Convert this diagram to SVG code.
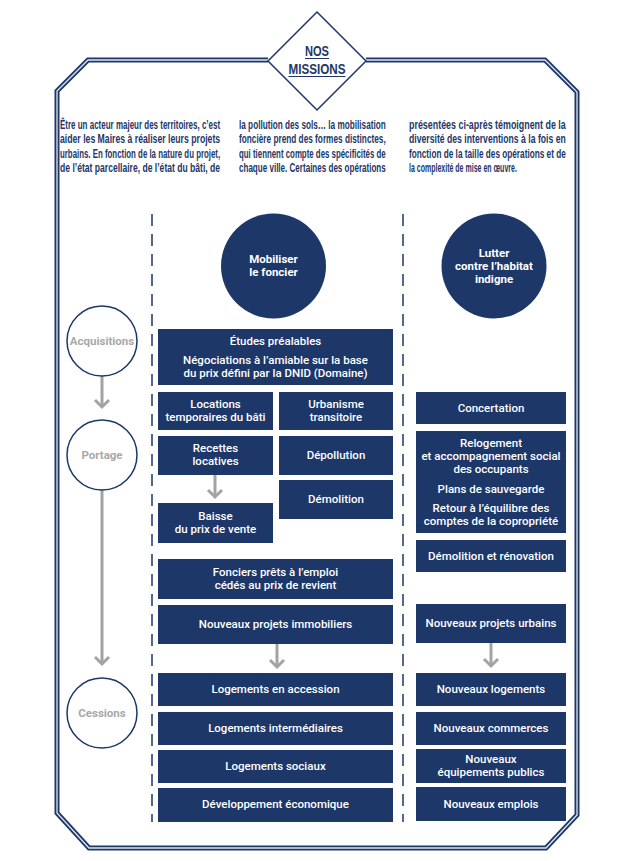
<svg xmlns="http://www.w3.org/2000/svg" width="625" height="861" viewBox="0 0 625 861">
<defs>
<style>
.frame{fill:none;stroke:#1d3769;stroke-width:5}
.frameIn{fill:none;stroke:#dfe4ee;stroke-width:1.3}
.para{font-family:"Liberation Sans",Arial,sans-serif;font-weight:bold;font-size:12px;fill:#1d3769}
.box{fill:#1d3769}
.bt{font-family:Roboto,"Liberation Sans",Arial,sans-serif;font-weight:500;font-size:11.5px;fill:#ffffff;text-anchor:middle}
.ct{font-family:Roboto,"Liberation Sans",Arial,sans-serif;font-weight:bold;font-size:11.5px;fill:#ffffff;text-anchor:middle}
.stage{fill:#ffffff;stroke:#1d3769;stroke-width:1.5}
.st{font-family:Roboto,"Liberation Sans",Arial,sans-serif;font-weight:bold;font-size:11.5px;fill:#a8a8a8;text-anchor:middle}
.dash{stroke:#1d3769;stroke-width:1.5;stroke-dasharray:12 8;fill:none}
.garrow{stroke:#a3a3a3;stroke-width:3;fill:none}
.ghead{stroke:#a3a3a3;stroke-width:3;fill:none;stroke-linejoin:miter}
</style>
</defs>

<g id="frame">
<path class="frame" d="M268,60 H88 L57,91 V813 L89,848 H546 L577,815 V92 L545,60 H366"/>
<path class="frameIn" d="M268,60 H88 L57,91 V813 L89,848 H546 L577,815 V92 L545,60 H366"/>
</g>

<g id="title">
<polygon points="317,12 366,61 317,110 268,61" fill="#ffffff" stroke="#1d3769" stroke-width="1.5"/>
<text x="317" y="56" text-anchor="middle" font-family="'Liberation Sans',Arial,sans-serif" font-weight="bold" font-size="15" fill="#1d3769" textLength="24" lengthAdjust="spacingAndGlyphs">NOS</text>
<line x1="305" y1="58.5" x2="329" y2="58.5" stroke="#1d3769" stroke-width="1"/>
<text x="317" y="74" text-anchor="middle" font-family="'Liberation Sans',Arial,sans-serif" font-weight="bold" font-size="15" fill="#1d3769" textLength="57" lengthAdjust="spacingAndGlyphs">MISSIONS</text>
<line x1="288.5" y1="76.5" x2="345.5" y2="76.5" stroke="#1d3769" stroke-width="1"/>
</g>

<g id="intro">
<g transform="translate(60,0) scale(0.67,1)">
<text class="para" x="0" y="129" textLength="239" lengthAdjust="spacingAndGlyphs">Être un acteur majeur des territoires, c’est</text>
<text class="para" x="0" y="143.5" textLength="239" lengthAdjust="spacingAndGlyphs">aider les Maires à réaliser leurs projets</text>
<text class="para" x="0" y="158" textLength="239" lengthAdjust="spacingAndGlyphs">urbains. En fonction de la nature du projet,</text>
<text class="para" x="0" y="172.5" textLength="239" lengthAdjust="spacingAndGlyphs">de l’état parcellaire, de l’état du bâti, de</text>
</g>
<g transform="translate(239,0) scale(0.67,1)">
<text class="para" x="0" y="129" textLength="219" lengthAdjust="spacingAndGlyphs">la pollution des sols… la mobilisation</text>
<text class="para" x="0" y="143.5" textLength="219" lengthAdjust="spacingAndGlyphs">foncière prend des formes distinctes,</text>
<text class="para" x="0" y="158" textLength="219" lengthAdjust="spacingAndGlyphs">qui tiennent compte des spécificités de</text>
<text class="para" x="0" y="172.5" textLength="219" lengthAdjust="spacingAndGlyphs">chaque ville. Certaines des opérations</text>
</g>
<g transform="translate(409,0) scale(0.67,1)">
<text class="para" x="0" y="129" textLength="234" lengthAdjust="spacingAndGlyphs">présentées ci-après témoignent de la</text>
<text class="para" x="0" y="143.5" textLength="234" lengthAdjust="spacingAndGlyphs">diversité des interventions à la fois en</text>
<text class="para" x="0" y="158" textLength="234" lengthAdjust="spacingAndGlyphs">fonction de la taille des opérations et de</text>
<text class="para" x="0" y="172.5" textLength="161" lengthAdjust="spacingAndGlyphs">la complexité de mise en œuvre.</text>
</g>
</g>

<g id="connectors">
<line class="dash" x1="152" y1="214" x2="152" y2="822"/>
<line class="dash" x1="403" y1="214" x2="403" y2="822"/>
<line class="garrow" x1="102" y1="376" x2="102" y2="407"/>
<polyline class="ghead" points="95,400 102,407 109,400"/>
<line class="garrow" x1="102" y1="490" x2="102" y2="664"/>
<polyline class="ghead" points="95,657 102,664 109,657"/>
<line class="garrow" x1="215" y1="475" x2="215" y2="497"/>
<polyline class="ghead" points="208,490 215,497 222,490"/>
<line class="garrow" x1="277" y1="644" x2="277" y2="667"/>
<polyline class="ghead" points="270,660 277,667 284,660"/>
<line class="garrow" x1="491" y1="643" x2="491" y2="666"/>
<polyline class="ghead" points="484,659 491,666 498,659"/>
</g>

<g id="stage-acquisitions"><circle class="stage" cx="102" cy="341" r="35"/><text class="st" x="102" y="345">Acquisitions</text></g>
<g id="stage-portage"><circle class="stage" cx="102" cy="455" r="35"/><text class="st" x="102" y="459">Portage</text></g>
<g id="stage-cessions"><circle class="stage" cx="102" cy="713" r="35"/><text class="st" x="102" y="717">Cessions</text></g>

<g id="mobiliser"><circle class="box" cx="273.5" cy="266" r="52.5"/><text class="ct" x="273.5" y="263">Mobiliser</text><text class="ct" x="273.5" y="276">le foncier</text></g>
<g id="lutter"><circle class="box" cx="494" cy="266" r="52.5"/><text class="ct" x="494" y="257">Lutter</text><text class="ct" x="494" y="270">contre l’habitat</text><text class="ct" x="494" y="283">indigne</text></g>

<g id="etudes"><rect class="box" x="158" y="329" width="235" height="56"/><text class="bt" x="275.5" y="345">Études préalables</text><text class="bt" x="275.5" y="364">Négociations à l’amiable sur la base</text><text class="bt" x="275.5" y="377">du prix défini par la DNID (Domaine)</text></g>
<g id="locations"><rect class="box" x="158" y="392" width="115" height="38"/><text class="bt" x="215.5" y="408">Locations</text><text class="bt" x="215.5" y="421">temporaires du bâti</text></g>
<g id="urbanisme"><rect class="box" x="279" y="392" width="114" height="38"/><text class="bt" x="336" y="408">Urbanisme</text><text class="bt" x="336" y="421">transitoire</text></g>
<g id="recettes"><rect class="box" x="158" y="436" width="115" height="39"/><text class="bt" x="215.5" y="452">Recettes</text><text class="bt" x="215.5" y="465">locatives</text></g>
<g id="depollution"><rect class="box" x="279" y="436" width="114" height="39"/><text class="bt" x="336" y="459">Dépollution</text></g>
<g id="demolition"><rect class="box" x="279" y="480" width="114" height="39"/><text class="bt" x="336" y="503">Démolition</text></g>
<g id="baisse"><rect class="box" x="158" y="503" width="115" height="40"/><text class="bt" x="215.5" y="520">Baisse</text><text class="bt" x="215.5" y="533">du prix de vente</text></g>
<g id="fonciers"><rect class="box" x="158" y="559" width="235" height="40"/><text class="bt" x="275.5" y="576">Fonciers prêts à l’emploi</text><text class="bt" x="275.5" y="589">cédés au prix de revient</text></g>
<g id="projets-immo"><rect class="box" x="158" y="605" width="235" height="39"/><text class="bt" x="275.5" y="628">Nouveaux projets immobiliers</text></g>
<g id="log-accession"><rect class="box" x="158" y="673" width="235" height="33"/><text class="bt" x="275.5" y="693">Logements en accession</text></g>
<g id="log-inter"><rect class="box" x="158" y="712" width="235" height="33"/><text class="bt" x="275.5" y="732">Logements intermédiaires</text></g>
<g id="log-sociaux"><rect class="box" x="158" y="750" width="235" height="33"/><text class="bt" x="275.5" y="770">Logements sociaux</text></g>
<g id="dev-eco"><rect class="box" x="158" y="788" width="235" height="34"/><text class="bt" x="275.5" y="808">Développement économique</text></g>

<g id="concertation"><rect class="box" x="416" y="392" width="150" height="32"/><text class="bt" x="491" y="412">Concertation</text></g>
<g id="relogement"><rect class="box" x="416" y="431" width="150" height="102"/><text class="bt" x="491" y="447">Relogement</text><text class="bt" x="491" y="460">et accompagnement social</text><text class="bt" x="491" y="473">des occupants</text><text class="bt" x="491" y="493">Plans de sauvegarde</text><text class="bt" x="491" y="512">Retour à l’équilibre des</text><text class="bt" x="491" y="525">comptes de la copropriété</text></g>
<g id="demo-renov"><rect class="box" x="416" y="540" width="150" height="32"/><text class="bt" x="491" y="560">Démolition et rénovation</text></g>
<g id="projets-urbains"><rect class="box" x="416" y="604" width="150" height="39"/><text class="bt" x="491" y="627">Nouveaux projets urbains</text></g>
<g id="nv-logements"><rect class="box" x="416" y="673" width="150" height="33"/><text class="bt" x="491" y="693">Nouveaux logements</text></g>
<g id="nv-commerces"><rect class="box" x="416" y="712" width="150" height="33"/><text class="bt" x="491" y="732">Nouveaux commerces</text></g>
<g id="nv-equipements"><rect class="box" x="416" y="749" width="150" height="34"/><text class="bt" x="491" y="763">Nouveaux</text><text class="bt" x="491" y="776">équipements publics</text></g>
<g id="nv-emplois"><rect class="box" x="416" y="787" width="150" height="34"/><text class="bt" x="491" y="808">Nouveaux emplois</text></g>
</svg>
